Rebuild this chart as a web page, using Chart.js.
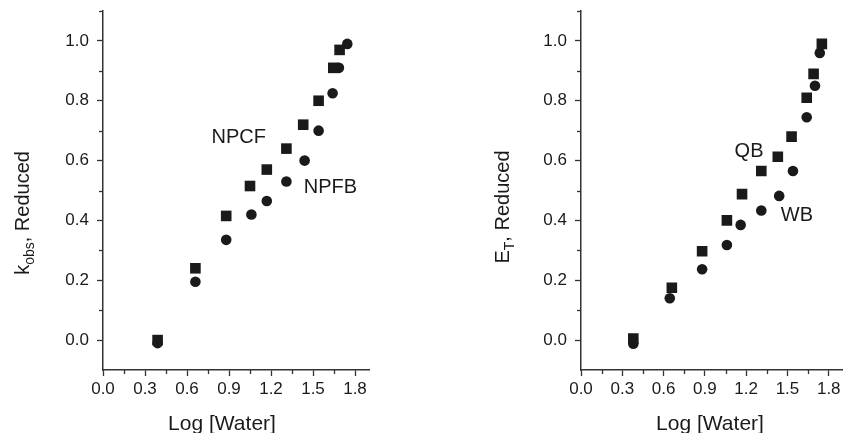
<!DOCTYPE html>
<html lang="en">
<head>
    <meta charset="UTF-8">
    <script src="https://cdn.jsdelivr.net/npm/chart.js"></script>
    <title>Log [Water] vs reduced values</title>
    <style>
        body { margin: 0; background: #fff; overflow: hidden; }
        .panel { position: absolute; top: 0; height: 433px; }
        #leftPanel { left: 0; width: 420px; }
        #rightPanel { left: 420px; width: 430px; }
    </style>
</head>
<body>
    <div class="panel" id="leftPanel"><canvas id="leftChart"></canvas></div>
    <div class="panel" id="rightPanel"><canvas id="rightChart"></canvas></div>
<script>
// data
var npcfX = [0.39, 0.66, 0.88, 1.05, 1.17, 1.31, 1.43, 1.54, 1.645, 1.69];
var npcfY = [0.00, 0.24, 0.415, 0.515, 0.57, 0.64, 0.72, 0.80, 0.91, 0.97];
var npfbX = [0.39, 0.66, 0.88, 1.06, 1.17, 1.31, 1.44, 1.54, 1.64, 1.685, 1.745];
var npfbY = [-0.01, 0.195, 0.335, 0.42, 0.465, 0.53, 0.60, 0.70, 0.825, 0.91, 0.99];

var qbX = [0.38, 0.66, 0.88, 1.06, 1.17, 1.31, 1.43, 1.53, 1.64, 1.69, 1.75];
var qbY = [0.005, 0.175, 0.297, 0.40, 0.488, 0.565, 0.613, 0.68, 0.81, 0.89, 0.99];
var wbX = [0.38, 0.645, 0.88, 1.06, 1.16, 1.31, 1.44, 1.54, 1.64, 1.70, 1.735];
var wbY = [-0.012, 0.14, 0.237, 0.318, 0.385, 0.433, 0.482, 0.565, 0.745, 0.85, 0.96];

var xMajor = [0, 0.3, 0.6, 0.9, 1.2, 1.5, 1.8];
var xMinor = [0.15, 0.45, 0.75, 1.05, 1.35, 1.65];
var yMajor = [0, 0.2, 0.4, 0.6, 0.8, 1.0];
var yMinor = [0.1, 0.3, 0.5, 0.7, 0.9, 1.1];

var FONT = "'Liberation Sans', Arial, sans-serif";
var INK = '#1a1a1a';
var AXIS = '#333';

function points(xs, ys) {
    return xs.map(function (v, i) { return { x: v, y: ys[i] }; });
}

function drawYTitle(ctx, parts, baseX, cy, size) {
    var mainFont = size + 'px ' + FONT;
    var subFont = Math.round(size * 0.68) + 'px ' + FONT;
    var widths = parts.map(function (p) {
        ctx.font = p.sub ? subFont : mainFont;
        return ctx.measureText(p.t).width;
    });
    var total = widths.reduce(function (a, b) { return a + b; }, 0);
    ctx.save();
    ctx.translate(baseX, cy);
    ctx.rotate(-Math.PI / 2);
    ctx.textAlign = 'left';
    ctx.textBaseline = 'alphabetic';
    var pos = -total / 2;
    parts.forEach(function (p, i) {
        ctx.font = p.sub ? subFont : mainFont;
        ctx.fillText(p.t, pos, p.sub ? size * 0.25 : 0);
        pos += widths[i];
    });
    ctx.restore();
}

var decor = {
    id: 'decor',
    afterDraw: function (chart, args, opts) {
        var ctx = chart.ctx;
        var x = chart.scales.x, y = chart.scales.y;
        ctx.save();
        ctx.strokeStyle = AXIS;
        ctx.lineWidth = 1.3;
        xMinor.forEach(function (v) {
            var px = Math.round(x.getPixelForValue(v)) + 0.5;
            ctx.beginPath();
            ctx.moveTo(px, y.bottom);
            ctx.lineTo(px, y.bottom + 4);
            ctx.stroke();
        });
        yMinor.forEach(function (v) {
            var py = Math.round(y.getPixelForValue(v)) + 0.5;
            ctx.beginPath();
            ctx.moveTo(x.left, py);
            ctx.lineTo(x.left - 4, py);
            ctx.stroke();
        });
        ctx.fillStyle = INK;
        ctx.textAlign = 'center';
        ctx.textBaseline = 'middle';
        ctx.font = '20px ' + FONT;
        opts.labels.forEach(function (l) {
            ctx.fillText(l.text, x.getPixelForValue(l.x), y.getPixelForValue(l.y));
        });
        ctx.textBaseline = 'alphabetic';
        ctx.font = '21px ' + FONT;
        ctx.fillText('Log [Water]', opts.xTitleX, 430);
        drawYTitle(ctx, opts.yTitle, opts.yTitleX, opts.yTitleY, 20);
        ctx.restore();
    }
};

function makeChart(id, sqData, ciData, sqName, ciName, yWidth, padRight, decorOpts) {
    var ctx = document.getElementById(id).getContext('2d');
    return new Chart(ctx, {
        type: 'scatter',
        data: {
            datasets: [
                {
                    label: sqName,
                    data: sqData,
                    pointStyle: 'rect',
                    pointRadius: 7.5,
                    backgroundColor: INK,
                    borderWidth: 0
                },
                {
                    label: ciName,
                    data: ciData,
                    pointStyle: 'circle',
                    pointRadius: 5.3,
                    backgroundColor: INK,
                    borderWidth: 0
                }
            ]
        },
        options: {
            responsive: true,
            maintainAspectRatio: false,
            animation: false,
            layout: { padding: { top: 11, right: padRight, left: 0, bottom: 0 } },
            plugins: {
                legend: { display: false },
                tooltip: { enabled: false },
                decor: decorOpts
            },
            scales: {
                x: {
                    type: 'linear',
                    min: 0,
                    max: 1.9,
                    afterBuildTicks: function (s) { s.ticks = xMajor.map(function (v) { return { value: v }; }); },
                    afterFit: function (s) { s.height = 63; s.paddingLeft = 0; s.paddingRight = 0; },
                    grid: { drawOnChartArea: false, drawTicks: true, tickLength: 6, tickColor: AXIS, tickWidth: 1.3 },
                    border: { display: true, color: AXIS, width: 1.5 },
                    ticks: {
                        color: INK,
                        padding: 3,
                        maxRotation: 0,
                        font: { family: FONT, size: 17 },
                        callback: function (v) { return v.toFixed(1); }
                    }
                },
                y: {
                    type: 'linear',
                    min: -0.1,
                    max: 1.1,
                    afterBuildTicks: function (s) { s.ticks = yMajor.map(function (v) { return { value: v }; }); },
                    afterFit: function (s) { s.width = yWidth; s.paddingTop = 0; s.paddingBottom = 0; },
                    grid: { drawOnChartArea: false, drawTicks: true, tickLength: 6, tickColor: AXIS, tickWidth: 1.3 },
                    border: { display: true, color: AXIS, width: 1.5 },
                    ticks: {
                        color: INK,
                        padding: 8,
                        font: { family: FONT, size: 17 },
                        callback: function (v) { return v.toFixed(1); }
                    }
                }
            }
        },
        plugins: [decor]
    });
}

makeChart('leftChart', points(npcfX, npcfY), points(npfbX, npfbY), 'NPCF', 'NPFB', 103, 51, {
    labels: [
        { text: 'NPCF', x: 0.97, y: 0.676 },
        { text: 'NPFB', x: 1.625, y: 0.511 }
    ],
    xTitleX: 222,
    yTitle: [{ t: 'k' }, { t: 'obs', sub: true }, { t: ', Reduced' }],
    yTitleX: 29,
    yTitleY: 213
});

makeChart('rightChart', points(qbX, qbY), points(wbX, wbY), 'QB', 'WB', 161, 3, {
    labels: [
        { text: 'QB', x: 1.221, y: 0.63 },
        { text: 'WB', x: 1.569, y: 0.415 }
    ],
    xTitleX: 290,
    yTitle: [{ t: 'E' }, { t: 'T', sub: true }, { t: ', Reduced' }],
    yTitleX: 89,
    yTitleY: 207
});
</script>
</body>
</html>
